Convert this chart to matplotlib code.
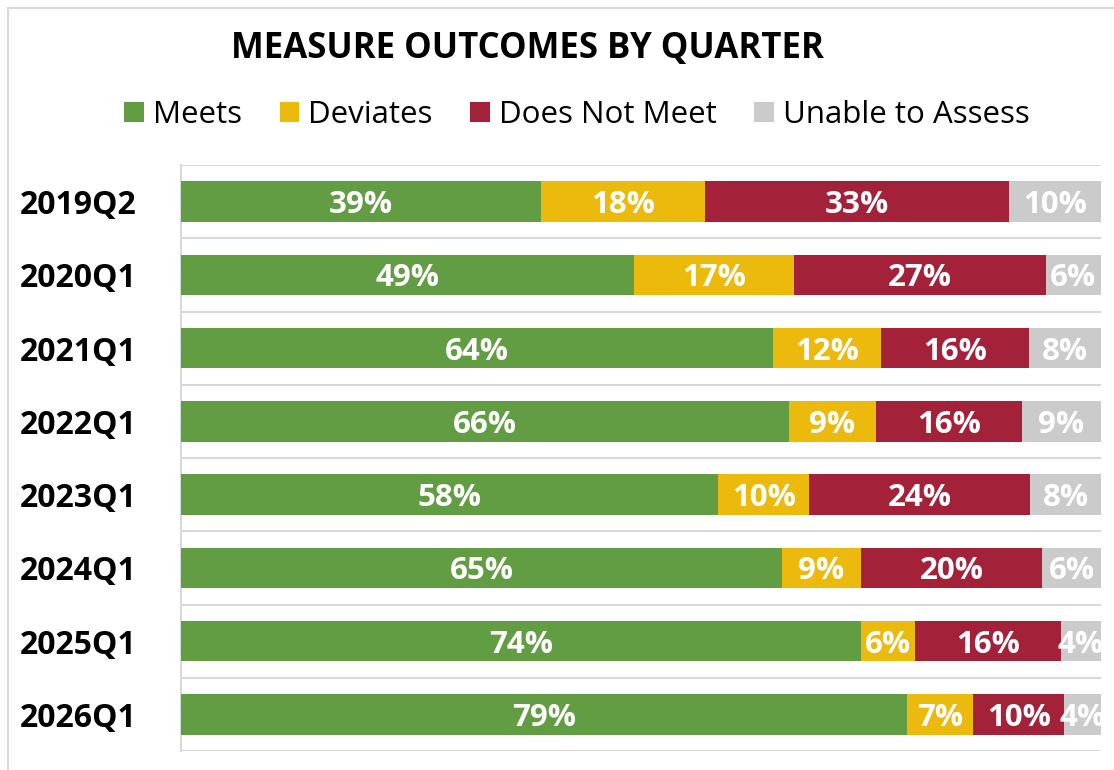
import matplotlib
matplotlib.use("Agg")
import matplotlib.pyplot as plt
from matplotlib.patches import Patch, Rectangle
import numpy as np

plt.rcParams['font.family'] = ['Open Sans', 'DejaVu Sans']

quarters = ["2019Q2", "2020Q1", "2021Q1", "2022Q1", "2023Q1", "2024Q1", "2025Q1", "2026Q1"]
series_names = ["Meets", "Deviates", "Does Not Meet", "Unable to Assess"]
meets = [39.1, 49.2, 64.4, 66.1, 58.4, 65.3, 73.9, 78.9]
deviates = [17.9, 17.4, 11.7, 9.4, 9.9, 8.6, 5.9, 7.2]
does_not_meet = [33.0, 27.4, 16.1, 15.9, 24.0, 19.7, 15.8, 9.9]
unable = [10.0, 6.0, 7.8, 8.6, 7.7, 6.4, 4.4, 4.0]
colors = ["#629D44", "#EBBA0C", "#A4213A", "#CBCBCB"]

W, H = 1114, 770
fig = plt.figure(figsize=(W / 100, H / 100), dpi=100)

# outer frame
frame = Rectangle((7.5 / W, -0.1), 1.2, 1.1 - 7.5 / H, transform=fig.transFigure,
                  fill=False, edgecolor="#D9D9D9", linewidth=1.5)
fig.add_artist(frame)

ax = fig.add_axes([181 / W, 1 - 751 / H, (1101 - 181) / W, (751 - 165) / H])

y = np.arange(len(quarters))
left = np.zeros(len(quarters))
for name, vals, col in zip(series_names, [meets, deviates, does_not_meet, unable], colors):
    vals = np.array(vals)
    ax.barh(y, vals, left=left, height=0.55, color=col, label=name, zorder=3)
    for yi, l, v in zip(y, left, vals):
        ax.text(l + v / 2, yi, f"{round(v):d}%", ha="center", va="center_baseline",
                color="white", fontsize=22.5, fontweight="bold", zorder=4, clip_on=True)
    left = left + vals

ax.set_xlim(0, 100)
ax.set_ylim(len(quarters) - 0.5, -0.5)
ax.set_yticks(y)
ax.set_yticklabels(quarters, fontsize=23, fontweight="bold")
ax.tick_params(axis="y", which="major", length=0, pad=32)
ax.set_xticks([])
ax.set_yticks(np.arange(-0.5, len(quarters) + 0.5, 1), minor=True)
ax.tick_params(axis="y", which="minor", length=0)
ax.grid(which="minor", axis="y", color="#D9D9D9", linewidth=1.5, zorder=0)
for s in ["top", "right", "bottom"]:
    ax.spines[s].set_visible(False)
ax.spines["left"].set_color("#D9D9D9")
ax.spines["left"].set_linewidth(1.5)

fig.text(527 / W, 1 - 49 / H, "MEASURE OUTCOMES BY QUARTER", ha="center", va="center",
         fontsize=25, fontweight="bold", color="black")

handles = [Patch(facecolor=c, edgecolor="none") for c in colors]
fig.legend(handles, series_names, loc="center", bbox_to_anchor=(577 / W, 1 - 115 / H),
           ncol=4, frameon=False, fontsize=22.5, handlelength=0.62, handleheight=0.62,
           handletextpad=0.3, columnspacing=1.2, borderaxespad=0)

fig.savefig("out.png", dpi=100)
